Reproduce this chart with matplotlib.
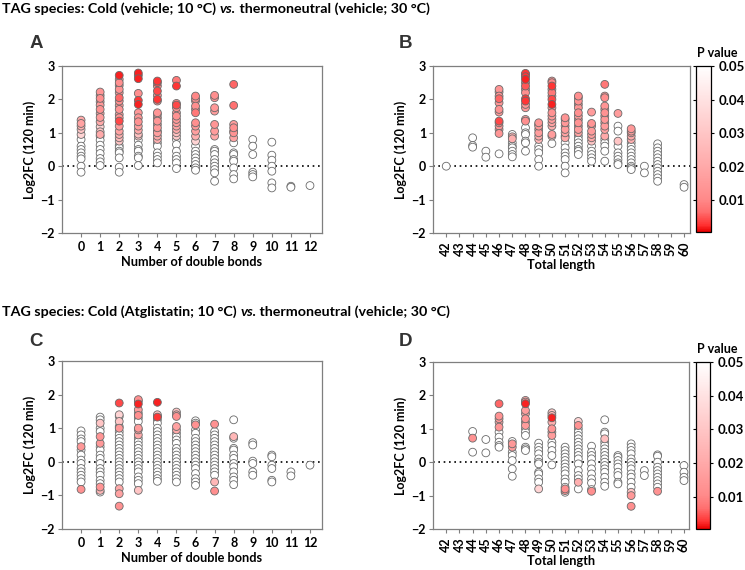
import matplotlib
matplotlib.use("Agg")
import matplotlib.pyplot as plt
import numpy as np
from matplotlib.colors import LinearSegmentedColormap, Normalize

plt.rcParams['font.family'] = ['Lato', 'DejaVu Sans']
plt.rcParams['font.weight'] = 'bold'

NS = 1.0  # not significant -> drawn white

# ---------------- Panel A: double bonds (vehicle) ----------------
a_cats = list(range(0, 13))
a_fc = [
    [1.38, 1.28, 1.2, 1.1, 0.95, 0.8, 0.6, 0.5, 0.4, 0.3, 0.22, 0.0, -0.18],
    [2.22, 2.12, 2.03, 1.93, 1.83, 1.7, 1.58, 1.46, 1.33, 1.18, 1.03, 0.95, 0.9, 0.78, 0.63, 0.5, 0.38, 0.23, 0.13, 0.02],
    [2.72, 2.6, 2.5, 2.42, 2.3, 2.2, 2.05, 1.95, 1.82, 1.7, 1.55, 1.45, 1.35, 1.2, 1.05, 0.95, 0.85, 0.75, 0.62, 0.55, 0.45, 0.4, 0.25, -0.03, -0.18],
    [2.79, 2.72, 2.62, 2.18, 1.97, 1.85, 1.6, 1.45, 1.33, 1.2, 1.08, 0.96, 0.9, 0.78, 0.63, 0.5, 0.45, 0.3, 0.25, 0.02],
    [2.55, 2.5, 2.4, 2.25, 2.12, 2.0, 1.95, 1.6, 1.55, 1.45, 1.35, 1.25, 1.15, 1.05, 1.0, 0.9, 0.8, 0.7, 0.6, 0.4, 0.3, 0.2, 0.1],
    [2.57, 2.4, 1.88, 1.83, 1.75, 1.6, 1.5, 1.4, 1.3, 1.2, 1.1, 1.0, 0.9, 0.8, 0.65, 0.45, 0.3, 0.2, 0.1, -0.07],
    [2.1, 2.02, 1.95, 1.8, 1.7, 1.6, 1.3, 1.2, 1.05, 0.9, 0.75, 0.6, 0.45, 0.35, 0.25, 0.15, 0.05, -0.05, -0.12],
    [2.12, 2.05, 1.75, 1.65, 1.25, 1.05, 0.9, 0.5, 0.45, 0.35, 0.2, 0.1, 0.0, -0.1, -0.2, -0.45],
    [2.45, 1.82, 1.25, 1.15, 1.05, 1.0, 0.85, 0.7, 0.4, 0.35, 0.2, 0.15, -0.05, -0.25, -0.38],
    [0.8, 0.6, 0.35, -0.18, -0.25, -0.32],
    [0.72, 0.33, 0.18, 0.0, -0.15, -0.5, -0.65],
    [-0.6, -0.63],
    [-0.58],
]
a_p = [
    [0.02, 0.018, 0.022, 0.03, 0.035, NS, NS, NS, NS, NS, NS, NS, NS],
    [0.014, 0.015, 0.012, 0.016, 0.015, 0.013, 0.018, 0.016, 0.02, 0.035, 0.03, 0.02, NS, NS, NS, NS, NS, NS, NS, NS],
    [0.002, 0.014, 0.012, 0.015, 0.013, 0.014, 0.006, 0.012, 0.015, 0.014, 0.016, 0.013, 0.004, 0.016, 0.018, 0.022, 0.026, 0.03, NS, NS, NS, NS, NS, NS, NS],
    [0.002, 0.003, 0.002, 0.012, 0.003, 0.002, 0.015, 0.014, 0.013, 0.017, 0.02, 0.028, 0.032, NS, NS, NS, NS, NS, NS, NS],
    [0.003, 0.004, 0.012, 0.004, 0.012, 0.003, 0.012, 0.014, 0.015, 0.016, 0.014, 0.016, 0.015, 0.018, 0.017, 0.02, 0.022, NS, NS, NS, NS, NS, NS],
    [0.008, 0.003, 0.012, 0.004, 0.012, 0.014, 0.013, 0.015, 0.016, 0.018, 0.02, 0.028, 0.032, NS, NS, NS, NS, NS, NS, NS],
    [0.01, 0.012, 0.013, 0.012, 0.014, 0.008, 0.012, 0.015, 0.017, 0.022, 0.035, NS, NS, NS, NS, NS, NS, NS, NS],
    [0.012, 0.014, 0.015, 0.016, 0.014, 0.016, 0.02, NS, NS, NS, NS, NS, NS, NS, NS, NS],
    [0.006, 0.007, 0.016, 0.012, 0.014, 0.013, 0.018, NS, NS, NS, NS, NS, NS, NS, NS],
    [NS] * 6,
    [NS] * 7,
    [NS] * 2,
    [NS],
]

# ---------------- Panel B: total length (vehicle) ----------------
b_cats = list(range(42, 61))
b_fc = [
    [0.0],
    [],
    [0.85, 0.62, 0.57],
    [0.45, 0.27],
    [2.3, 2.22, 2.1, 2.02, 1.9, 1.7, 1.62, 1.35, 1.3, 1.2, 1.1, 0.98, 0.37],
    [0.95, 0.88, 0.82, 0.7, 0.6, 0.55, 0.45, 0.35, 0.28],
    [2.78, 2.74, 2.68, 2.6, 2.5, 2.4, 2.3, 2.2, 2.02, 1.95, 1.85, 1.75, 1.4, 1.35, 1.15, 1.0, 0.95, 0.75, 0.7, 0.45],
    [1.3, 1.25, 1.2, 1.1, 1.0, 0.9, 0.8, 0.6, 0.5, 0.4, 0.2, 0.0],
    [2.55, 2.5, 2.4, 2.3, 2.2, 2.1, 2.0, 1.85, 1.75, 1.6, 1.5, 1.4, 1.3, 1.2, 0.95, 0.9, 0.68],
    [1.45, 1.4, 1.3, 1.2, 1.1, 1.0, 0.9, 0.85, 0.7, 0.55, 0.4, 0.3, 0.2, 0.0, -0.2],
    [2.1, 2.05, 1.95, 1.85, 1.75, 1.6, 1.5, 1.4, 1.3, 1.2, 1.1, 1.0, 0.9, 0.8, 0.7, 0.6, 0.5, 0.45, 0.35],
    [1.62, 1.28, 1.2, 1.05, 0.95, 0.85, 0.75, 0.6, 0.45, 0.35, 0.25, 0.15],
    [2.45, 2.1, 2.05, 1.8, 1.7, 1.6, 1.5, 1.4, 1.3, 1.2, 1.1, 0.9, 0.8, 0.7, 0.6, 0.45, 0.15],
    [1.58, 1.2, 1.05, 0.75, 0.6, 0.4, 0.3, 0.2, 0.1, 0.05],
    [1.12, 1.05, 1.0, 0.9, 0.8, 0.7, 0.6, 0.5, 0.4, 0.3, 0.2, 0.1, 0.0, -0.05, -0.1],
    [0.0, -0.2],
    [0.67, 0.55, 0.45, 0.35, 0.25, 0.15, 0.05, -0.05, -0.15, -0.25, -0.35, -0.45],
    [],
    [-0.55, -0.63],
]
b_p = [
    [NS],
    [],
    [NS] * 3,
    [NS] * 2,
    [0.014, 0.015, 0.013, 0.006, 0.014, 0.013, 0.015, 0.004, 0.012, 0.014, 0.016, 0.014, NS],
    [NS, 0.025, 0.022, NS, NS, NS, NS, NS, NS],
    [0.003, 0.004, 0.003, 0.002, 0.012, 0.005, 0.014, 0.012, 0.003, 0.003, 0.014, 0.015, 0.018, 0.012, NS, NS, NS, NS, NS, NS],
    [0.014, 0.016, 0.015, 0.017, 0.016, 0.02, 0.025, NS, NS, NS, NS, NS],
    [0.012, 0.01, 0.003, 0.012, 0.008, 0.013, 0.004, 0.002, 0.014, 0.013, 0.015, 0.016, 0.018, 0.022, 0.016, 0.028, NS],
    [0.014, 0.016, 0.015, 0.017, 0.016, 0.018, 0.022, 0.02, NS, NS, NS, NS, NS, NS, NS],
    [0.012, 0.014, 0.013, 0.015, 0.014, 0.012, 0.015, 0.016, 0.013, 0.017, 0.016, 0.018, NS, NS, NS, NS, NS, NS, NS],
    [0.016, 0.014, 0.018, 0.016, 0.017, 0.02, 0.03, NS, NS, NS, NS, NS],
    [0.008, 0.013, 0.012, 0.014, 0.015, 0.013, 0.016, 0.015, 0.017, 0.016, 0.018, 0.02, NS, NS, NS, NS, NS],
    [0.016, NS, NS, 0.03, NS, NS, NS, NS, NS, NS],
    [0.015, 0.016, 0.017, 0.02, 0.022, NS, NS, NS, NS, NS, NS, NS, NS, NS, NS],
    [NS] * 2,
    [NS] * 12,
    [],
    [NS] * 2,
]

# ---------------- Panel C: double bonds (Atglistatin) ----------------
c_cats = list(range(0, 13))
c_fc = [
    [0.92, 0.8, 0.68, 0.6, 0.45, 0.35, 0.2, 0.05, -0.05, -0.2, -0.3, -0.4, -0.5, -0.6, -0.82],
    [1.33, 1.25, 1.15, 1.0, 0.9, 0.75, 0.55, 0.45, 0.35, 0.2, 0.1, -0.05, -0.2, -0.3, -0.4, -0.55, -0.65, -0.75, -0.85, -0.9],
    [1.75, 1.4, 1.35, 1.2, 1.05, 1.0, 0.9, 0.8, 0.7, 0.6, 0.5, 0.4, 0.3, 0.2, 0.1, 0.0, -0.1, -0.2, -0.3, -0.4, -0.5, -0.6, -0.8, -0.95, -1.32],
    [1.85, 1.8, 1.72, 1.55, 1.45, 1.38, 1.3, 1.2, 1.0, 0.95, 0.8, 0.7, 0.6, 0.5, 0.4, 0.3, 0.2, 0.1, 0.0, -0.1, -0.2, -0.3, -0.45, -0.55, -0.65, -0.85],
    [1.77, 1.4, 1.35, 1.33, 1.25, 1.15, 1.0, 0.9, 0.8, 0.7, 0.6, 0.5, 0.4, 0.3, 0.2, 0.1, 0.0, -0.1, -0.2, -0.3, -0.4, -0.5, -0.58],
    [1.48, 1.4, 1.35, 1.05, 0.95, 0.85, 0.75, 0.65, 0.55, 0.4, 0.3, 0.2, 0.1, 0.0, -0.1, -0.2, -0.3, -0.4, -0.5, -0.6],
    [1.22, 1.15, 1.1, 0.95, 0.85, 0.7, 0.6, 0.5, 0.4, 0.3, 0.2, 0.1, 0.0, -0.1, -0.2, -0.35, -0.5, -0.6, -0.7],
    [1.12, 0.9, 0.8, 0.7, 0.6, 0.5, 0.4, 0.3, 0.2, 0.1, 0.0, -0.1, -0.2, -0.3, -0.4, -0.6, -0.87],
    [1.25, 0.75, 0.7, 0.4, 0.35, 0.2, 0.1, -0.05, -0.15, -0.3, -0.45, -0.55, -0.68],
    [0.57, 0.5, 0.02, -0.05, -0.3, -0.4],
    [0.2, 0.15, -0.1, -0.2, -0.55, -0.6],
    [-0.3, -0.42],
    [-0.1],
]
c_p = [
    [NS, NS, NS, NS, 0.015, NS, NS, NS, NS, NS, NS, NS, NS, NS, 0.013],
    [NS, NS, 0.03, NS, NS, 0.014, 0.015, NS, NS, NS, NS, NS, NS, NS, NS, NS, NS, 0.014, 0.025, NS],
    [0.004, 0.035, NS, 0.03, NS, 0.015] + [NS] * 16 + [0.02, 0.018, 0.013],
    [0.012, 0.015, 0.002, 0.016, NS, 0.012, NS, NS, 0.016, 0.018, 0.02] + [NS] * 14 + [0.03],
    [0.002, 0.03, NS, 0.003] + [NS] * 19,
    [0.03, 0.02, 0.012, 0.018, 0.02] + [NS] * 15,
    [NS, NS, 0.013] + [NS] * 16,
    [0.013] + [NS] * 14 + [0.025, 0.012],
    [NS, 0.025] + [NS] * 11,
    [NS] * 6,
    [NS] * 6,
    [NS] * 2,
    [NS],
]

# ---------------- Panel D: total length (Atglistatin) ----------------
d_cats = list(range(42, 61))
d_fc = [
    [],
    [],
    [0.92, 0.72, 0.3],
    [0.68, 0.28],
    [1.75, 1.38, 1.3, 1.2, 1.05, 0.9, 0.75, 0.6, 0.5, 0.45],
    [0.62, 0.55, 0.45, 0.3, 0.2, 0.05, -0.2, -0.42],
    [1.85, 1.8, 1.75, 1.55, 1.45, 1.3, 1.2, 1.1, 1.0, 0.9, 0.8, 0.45, 0.4, 0.35],
    [0.57, 0.45, 0.35, 0.25, 0.1, 0.0, -0.05, -0.3, -0.35, -0.5, -0.6, -0.8],
    [1.48, 1.4, 1.33, 1.2, 1.0, 0.9, 0.8, 0.6, 0.5, 0.35, 0.2, -0.08],
    [0.45, 0.35, 0.25, 0.15, 0.05, -0.05, -0.15, -0.25, -0.35, -0.5, -0.6, -0.75, -0.8, -0.85, -0.9],
    [1.22, 1.1, 1.0, 0.9, 0.8, 0.7, 0.6, 0.5, 0.4, 0.3, 0.2, 0.1, -0.05, -0.25, -0.4, -0.5, -0.6, -0.8],
    [0.48, 0.3, 0.2, 0.1, -0.05, -0.2, -0.35, -0.5, -0.62, -0.82, -0.87],
    [1.27, 0.9, 0.85, 0.7, 0.6, 0.5, 0.4, 0.3, 0.2, 0.1, 0.0, -0.1, -0.2, -0.3, -0.45, -0.6, -0.72],
    [0.2, 0.15, 0.05, -0.05, -0.15, -0.3, -0.4, -0.6, -0.65],
    [0.55, 0.45, 0.35, 0.25, 0.1, 0.0, -0.1, -0.2, -0.35, -0.45, -0.6, -0.75, -0.9, -1.0, -1.32],
    [-0.25, -0.4],
    [0.22, 0.18, 0.0, -0.15, -0.25, -0.35, -0.45, -0.55, -0.65, -0.75, -0.87],
    [],
    [-0.1, -0.3, -0.45, -0.55],
]
d_p = [
    [],
    [],
    [NS, 0.013, NS],
    [NS] * 2,
    [0.006, 0.013, 0.015, 0.02, 0.014, NS, NS, NS, NS, NS],
    [NS, 0.015, 0.016, NS, NS, NS, NS, NS],
    [0.02, 0.015, 0.002, 0.016, 0.018, 0.014, 0.02, 0.016, NS, NS, NS, NS, NS, NS],
    [NS] * 11 + [0.035],
    [0.03, 0.025, 0.002, 0.022, 0.014, 0.025, 0.016, NS, NS, NS, NS, NS],
    [NS] * 12 + [0.012, 0.014, NS],
    [0.035, 0.013] + [NS] * 14 + [0.022, NS],
    [NS] * 10 + [0.012],
    [NS, NS, NS, 0.028] + [NS] * 13,
    [NS] * 9,
    [NS] * 12 + [0.03, 0.015, 0.012],
    [NS] * 2,
    [NS] * 10 + [0.013],
    [],
    [NS] * 4,
]

# ---------------- styling ----------------
cmap = LinearSegmentedColormap.from_list(
    "pval",
    [(0.0, "#e80000"), (0.04, "#ff3030"), (0.12, "#ff6e6e"), (0.2, "#ff8a8a"),
     (0.4, "#ffaaaa"), (0.6, "#ffc6c6"), (0.8, "#ffe2e2"), (1.0, "#ffffff")])
cmap.set_over("#ffffff")
norm = Normalize(vmin=0.0005, vmax=0.05)

W, H = 745, 570
fig = plt.figure(figsize=(W / 100, H / 100), dpi=100)
renderer = fig.canvas.get_renderer()

def rect(l, t, r, b):
    return [l / W, 1 - b / H, (r - l) / W, (b - t) / H]

SPINE = "#7f7f7f"
TICKFS = 9

def panel(ax, cats, fc, p, xlim, xlabel, rotate):
    xs, ys, ps = [], [], []
    for c, vals, pv in zip(cats, fc, p):
        for v, q in zip(vals, pv):
            xs.append(c); ys.append(v); ps.append(q)
    xs, ys, ps = np.array(xs), np.array(ys), np.array(ps)
    order = np.argsort(-ps, kind="stable")
    ax.scatter(xs[order], ys[order], c=ps[order], cmap=cmap, norm=norm,
               s=32, edgecolors="#6a6a6a", linewidths=0.6, zorder=3)
    ax.axhline(0, color="black", lw=1.2, ls=(0, (1, 2.2)), zorder=2)
    ax.set_xlim(*xlim)
    ax.set_ylim(-2, 3)
    ax.set_yticks([-2, -1, 0, 1, 2, 3])
    ax.set_xticks(cats)
    ax.set_xticklabels([str(c) for c in cats], rotation=90 if rotate else 0,
                       fontsize=TICKFS, fontweight="bold")
    ax.tick_params(axis="y", labelsize=TICKFS, length=3, width=0.8, color=SPINE, pad=2)
    ax.tick_params(axis="x", length=3, width=0.8, color=SPINE, pad=3)
    for lab in ax.get_yticklabels():
        lab.set_fontweight("bold")
    for s in ax.spines.values():
        s.set_color(SPINE)
        s.set_linewidth(0.9)
    ax.set_ylabel("Log2FC (120 min)", fontsize=9, fontweight="bold", labelpad=3)
    ax.set_xlabel(xlabel, fontsize=9.2, fontweight="bold", labelpad=2)
    return ax

def colorbar(l, t, r, b, title_y):
    cax = fig.add_axes(rect(l, t, r, b))
    sm = matplotlib.cm.ScalarMappable(norm=norm, cmap=cmap)
    cb = fig.colorbar(sm, cax=cax)
    cb.set_ticks([0.01, 0.02, 0.03, 0.04, 0.05])
    cb.set_ticklabels(["0.01", "0.02", "0.03", "0.04", "0.05"])
    cax.tick_params(left=True, right=True, labelleft=False, labelright=True,
                    length=2.5, width=0.8, labelsize=9.5, pad=3)
    for lab in cax.get_yticklabels():
        lab.set_fontweight("bold")
    cb.outline.set_edgecolor("black")
    cb.outline.set_linewidth(0.9)
    fig.text(717 / W, 1 - title_y / H, "P value", ha="center", va="center",
             fontsize=9, fontweight="bold")

axA = fig.add_axes(rect(62, 66, 322, 233))
panel(axA, a_cats, a_fc, a_p, (-1.0, 12.63), "Number of double bonds", False)
axB = fig.add_axes(rect(433, 66, 690, 233))
panel(axB, b_cats, b_fc, b_p, (41.0, 60.45), "Total length", True)
colorbar(696, 66, 711, 232, 53)

axC = fig.add_axes(rect(62, 361, 322, 529))
panel(axC, c_cats, c_fc, c_p, (-1.0, 12.63), "Number of double bonds", False)
axD = fig.add_axes(rect(433, 362, 689, 529))
panel(axD, d_cats, d_fc, d_p, (41.0, 60.38), "Total length", True)
colorbar(696, 362, 710, 529, 349)

# titles built from pieces (bold / bold italic)
def title(y, cond):
    parts = [("TAG species: Cold (" + cond + "; 10 °C) ", "normal"),
             ("vs.", "italic"),
             (" thermoneutral (vehicle; 30 °C)", "normal")]
    x = 2.0
    for txt, style in parts:
        t = fig.text(x / W, 1 - y / H, txt, ha="left", va="center",
                     fontsize=10.3, fontweight="bold", style=style)
        bb = t.get_window_extent(renderer=renderer)
        x += bb.width

title(9, "vehicle")
title(312, "Atglistatin")

for lbl, x, y in [("A", 36, 44), ("B", 406, 44), ("C", 36, 342), ("D", 406, 341)]:
    fig.text(x / W, 1 - y / H, lbl, ha="center", va="center", fontsize=13.5,
             fontweight="bold", family="Liberation Sans", color="#333333")

fig.savefig("out.png", dpi=100)
